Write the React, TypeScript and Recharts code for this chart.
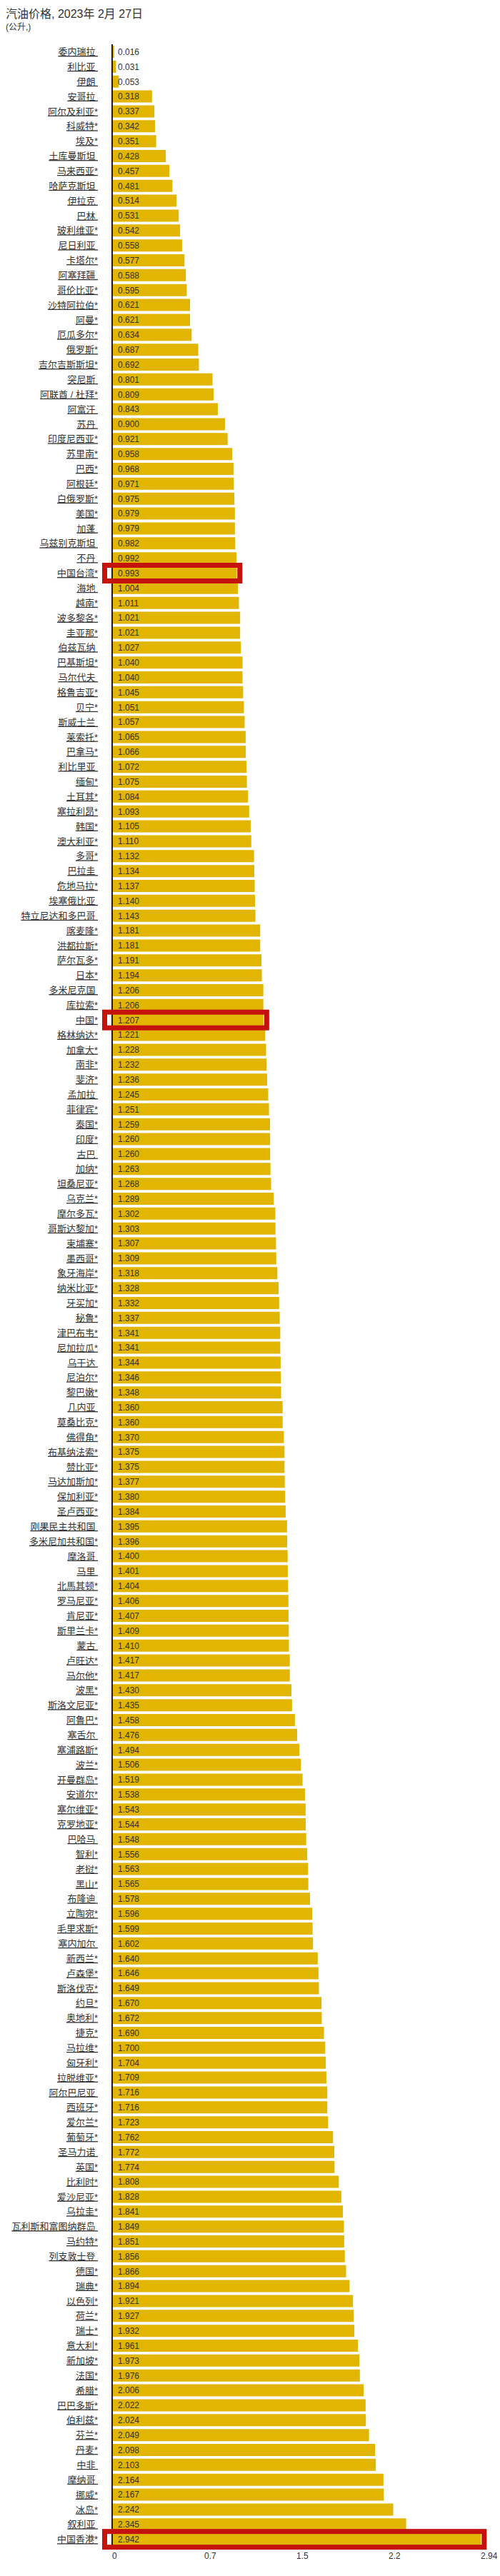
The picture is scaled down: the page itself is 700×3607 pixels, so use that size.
import React from "react";
import { Bar, BarChart, LabelList, XAxis, YAxis } from "recharts";

const FONT = '"Liberation Sans", Arial, "Noto Sans CJK SC", sans-serif';

// 国家 / 地区（带 * 的与原图一致）
const countries = [
  "委内瑞拉", "利比亚", "伊朗", "安哥拉", "阿尔及利亚*", "科威特*", "埃及*", "土库曼斯坦",
  "马来西亚*", "哈萨克斯坦", "伊拉克", "巴林", "玻利维亚*", "尼日利亚", "卡塔尔*", "阿塞拜疆",
  "哥伦比亚*", "沙特阿拉伯*", "阿曼*", "厄瓜多尔*", "俄罗斯*", "吉尔吉斯斯坦*", "突尼斯", "阿联酋 / 杜拜*",
  "阿富汗", "苏丹", "印度尼西亚*", "苏里南*", "巴西*", "阿根廷*", "白俄罗斯*", "美国*",
  "加蓬", "乌兹别克斯坦", "不丹", "中国台湾*", "海地", "越南*", "波多黎各*", "圭亚那*",
  "伯兹瓦纳", "巴基斯坦*", "马尔代夫", "格鲁吉亚*", "贝宁*", "斯威士兰", "莱索托*", "巴拿马*",
  "利比里亚", "缅甸*", "土耳其*", "塞拉利昂*", "韩国*", "澳大利亚*", "多哥*", "巴拉圭",
  "危地马拉*", "埃塞俄比亚", "特立尼达和多巴哥", "喀麦隆*", "洪都拉斯*", "萨尔瓦多*", "日本*", "多米尼克国",
  "库拉索*", "中国*", "格林纳达*", "加拿大*", "南非*", "斐济*", "孟加拉", "菲律宾*",
  "泰国*", "印度*", "古巴", "加纳*", "坦桑尼亚*", "乌克兰*", "摩尔多瓦*", "哥斯达黎加*",
  "柬埔寨*", "墨西哥*", "象牙海岸*", "纳米比亚*", "牙买加*", "秘鲁*", "津巴布韦*", "尼加拉瓜*",
  "乌干达", "尼泊尔*", "黎巴嫩*", "几内亚", "莫桑比克*", "佛得角*", "布基纳法索*", "赞比亚*",
  "马达加斯加*", "保加利亚*", "圣卢西亚*", "刚果民主共和国", "多米尼加共和国*", "摩洛哥", "马里", "北馬其顿*",
  "罗马尼亚*", "肯尼亚*", "斯里兰卡*", "蒙古", "卢旺达*", "马尔他*", "波黑*", "斯洛文尼亚*",
  "阿鲁巴*", "塞舌尔", "塞浦路斯*", "波兰*", "开曼群岛*", "安道尔*", "塞尔维亚*", "克罗地亚*",
  "巴哈马", "智利*", "老挝*", "黑山*", "布隆迪", "立陶宛*", "毛里求斯*", "塞内加尔",
  "新西兰*", "卢森堡*", "斯洛伐克*", "约旦*", "奥地利*", "捷克*", "马拉维*", "匈牙利*",
  "拉脱维亚*", "阿尔巴尼亚", "西班牙*", "爱尔兰*", "葡萄牙*", "圣马力诺", "英国*", "比利时*",
  "爱沙尼亚*", "乌拉圭*", "瓦利斯和富图纳群岛", "马约特*", "列支敦士登", "德国*", "瑞典*", "以色列*",
  "荷兰*", "瑞士*", "意大利*", "新加坡*", "法国*", "希腊*", "巴巴多斯*", "伯利兹*",
  "芬兰*", "丹麦*", "中非", "摩纳哥", "挪威*", "冰岛*", "叙利亚", "中国香港*",
];

const prices = [
  0.016, 0.031, 0.053, 0.318, 0.337, 0.342, 0.351, 0.428,
  0.457, 0.481, 0.514, 0.531, 0.542, 0.558, 0.577, 0.588,
  0.595, 0.621, 0.621, 0.634, 0.687, 0.692, 0.801, 0.809,
  0.843, 0.9, 0.921, 0.958, 0.968, 0.971, 0.975, 0.979,
  0.979, 0.982, 0.992, 0.993, 1.004, 1.011, 1.021, 1.021,
  1.027, 1.04, 1.04, 1.045, 1.051, 1.057, 1.065, 1.066,
  1.072, 1.075, 1.084, 1.093, 1.105, 1.11, 1.132, 1.134,
  1.137, 1.14, 1.143, 1.181, 1.181, 1.191, 1.194, 1.206,
  1.206, 1.207, 1.221, 1.228, 1.232, 1.236, 1.245, 1.251,
  1.259, 1.26, 1.26, 1.263, 1.268, 1.289, 1.302, 1.303,
  1.307, 1.309, 1.318, 1.328, 1.332, 1.337, 1.341, 1.341,
  1.344, 1.346, 1.348, 1.36, 1.36, 1.37, 1.375, 1.375,
  1.377, 1.38, 1.384, 1.395, 1.396, 1.4, 1.401, 1.404,
  1.406, 1.407, 1.409, 1.41, 1.417, 1.417, 1.43, 1.435,
  1.458, 1.476, 1.494, 1.506, 1.519, 1.538, 1.543, 1.544,
  1.548, 1.556, 1.563, 1.565, 1.578, 1.596, 1.599, 1.602,
  1.64, 1.646, 1.649, 1.67, 1.672, 1.69, 1.7, 1.704,
  1.709, 1.716, 1.716, 1.723, 1.762, 1.772, 1.774, 1.808,
  1.828, 1.841, 1.849, 1.851, 1.856, 1.866, 1.894, 1.921,
  1.927, 1.932, 1.961, 1.973, 1.976, 2.006, 2.022, 2.024,
  2.049, 2.098, 2.103, 2.164, 2.167, 2.242, 2.345, 2.942,
];

const highlighted = ["中国台湾*", "中国*", "中国香港*"];

const tickValues = [0, 0.735, 1.47, 2.205, 2.94];
const tickLabels = ["0", "0.7", "1.5", "2.2", "2.94"];

const data = countries.map((name, i) => ({ name, price: prices[i] }));

function CountryTick({ x, y, payload }: any) {
  const name: string = payload.value;
  const label = name.endsWith("*") ? name : name + "\u00a0";
  return (
    <text
      x={x}
      y={y}
      dy="0.36em"
      textAnchor="end"
      fontSize={13}
      fill="#333"
      fontFamily={FONT}
      style={{ textDecoration: "underline" }}
    >
      {label}
    </text>
  );
}

function AmountTick({ x, y, payload }: any) {
  const i = tickValues.indexOf(payload.value);
  return (
    <text x={x} y={y} dy="0.71em" textAnchor="start" fontSize={12} fill="#333" fontFamily={FONT}>
      {tickLabels[i]}
    </text>
  );
}

function ValueLabel(props: any) {
  const { x, y, width, height, value, index } = props;
  const cy = y + height / 2;
  const mark = highlighted.includes(countries[index]);
  return (
    <g>
      {mark && (
        <rect
          x={x - 10.5}
          y={cy - 11}
          width={width + 15}
          height={22}
          fill="none"
          stroke="#c4120c"
          strokeWidth={7}
        />
      )}
      <text x={x + 8} y={cy} dy="0.36em" fontSize={12} fill="#333" fontFamily={FONT}>
        {Number(value).toFixed(3)}
      </text>
    </g>
  );
}

export default function App() {
  return (
    <div
      style={{
        position: "absolute",
        left: 0,
        top: 0,
        width: 700,
        height: 3607,
        background: "#fff",
        fontFamily: FONT,
        color: "#333",
      }}
    >
      <div style={{ position: "absolute", left: 8, top: 10, fontSize: 16, lineHeight: "20px" }}>
        汽油价格, 2023年 2月 27日
      </div>
      <div style={{ position: "absolute", left: 8, top: 31, fontSize: 12, lineHeight: "14px" }}>
        (公升,)
      </div>
      <BarChart
        width={700}
        height={3607}
        data={data}
        layout="vertical"
        margin={{ top: 62, right: 27, left: 0, bottom: 11 }}
      >
        <XAxis
          type="number"
          domain={[0, 2.94]}
          ticks={tickValues}
          allowDataOverflow
          interval={0}
          axisLine={false}
          tickLine={false}
          tickSize={0}
          tickMargin={8}
          height={30}
          tick={<AmountTick />}
        />
        <YAxis
          type="category"
          dataKey="name"
          width={157}
          interval={0}
          tickLine={false}
          tickSize={0}
          tickMargin={20}
          axisLine={{ stroke: "#1c1c2c", strokeWidth: 2 }}
          tick={<CountryTick />}
        />
        <Bar dataKey="price" fill="#e2b500" barSize={17} isAnimationActive={false}>
          <LabelList dataKey="price" content={<ValueLabel />} />
        </Bar>
      </BarChart>
    </div>
  );
}
